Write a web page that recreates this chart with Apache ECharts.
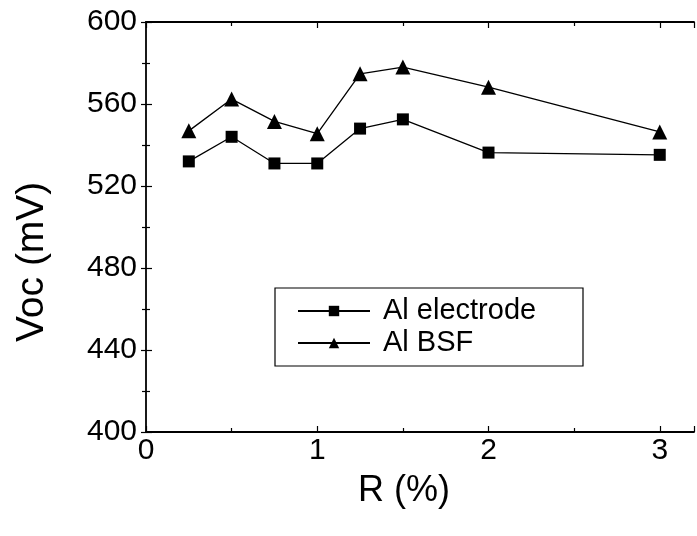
<!DOCTYPE html>
<html><head><meta charset="utf-8">
<script src="https://cdn.jsdelivr.net/npm/echarts@6/dist/echarts.min.js"></script>
<style>html,body{margin:0;padding:0;background:#fff}#c{width:697px;height:536px}</style>
</head><body><div id="c"></div>
<script>
const rValues = [0.25, 0.5, 0.75, 1.0, 1.25, 1.5, 2.0, 3.0];
const alElectrode = [532, 544, 531, 531, 548, 552.5, 536.3, 535.2];
const alBSF = [546.9, 562.4, 551.5, 545.5, 574.7, 578, 568.2, 546.4];
const xTicks = [0, 1, 2, 3];
const yTicks = [400, 440, 480, 520, 560, 600];
const seriesNames = ['Al electrode', 'Al BSF'];

const font = 'Liberation Sans, Arial, sans-serif';
const chart = echarts.init(document.getElementById('c'));
const pair = (xs, ys) => xs.map((x, i) => [x, ys[i]]);
const tickCommon = {inside: true, length: 6, lineStyle: {color: '#000', width: 1.2}};
const minorCommon = {show: true, splitNumber: 2, length: 4, lineStyle: {color: '#000', width: 1.2}};
chart.setOption({
  animation: false,
  backgroundColor: '#fff',
  grid: {left: 146, right: 3, top: 22, bottom: 104, containLabel: false},
  xAxis: [{
    type: 'value', min: 0, max: 3.2, interval: 1,
    axisLine: {lineStyle: {color: '#000', width: 1.8}},
    axisTick: tickCommon, minorTick: minorCommon, splitLine: {show: false},
    axisLabel: {color: '#000', fontFamily: font, fontSize: 30, margin: 4,
      formatter: v => xTicks.includes(v) ? String(v) : ''}
  }, {
    type: 'value', min: 0, max: 3.2, interval: 1, position: 'top',
    axisLine: {lineStyle: {color: '#000', width: 1.8}},
    axisTick: tickCommon, minorTick: minorCommon, splitLine: {show: false},
    axisLabel: {show: false}
  }],
  yAxis: [{
    type: 'value', min: 400, max: 600, interval: 40,
    axisLine: {show: true, lineStyle: {color: '#000', width: 1.8}},
    axisTick: tickCommon, minorTick: minorCommon, splitLine: {show: false},
    axisLabel: {color: '#000', fontFamily: font, fontSize: 30, margin: 9,
      formatter: v => yTicks.includes(v) ? String(v) : ''}
  }, {
    type: 'value', min: 400, max: 600, interval: 40, position: 'right',
    axisLine: {show: false},
    axisTick: {show: true, inside: true, length: 5, lineStyle: {color: '#000', width: 1.2}},
    minorTick: minorCommon, splitLine: {show: false},
    axisLabel: {show: false}
  }],
  legend: {
    orient: 'vertical', left: 275, top: 288,
    padding: [8, 20, 8, 22],
    borderColor: '#000', borderWidth: 1.2,
    itemWidth: 72, itemHeight: 13, itemGap: 2,
    textStyle: {color: '#000', fontFamily: font, fontSize: 29, lineHeight: 30, width: 180, padding: [0, 0, 0, 8]},
    data: seriesNames
  },
  graphic: [
    {type: 'text', left: 358, top: 473, style: {text: 'R (%)', fontFamily: font, fontSize: 36, fill: '#000'}},
    {type: 'text', x: 13, y: 342, rotation: Math.PI / 2, style: {text: 'Voc (mV)', fontFamily: font, fontSize: 39, fill: '#000'}}
  ],
  series: [{
    name: seriesNames[0], type: 'line', data: pair(rValues, alElectrode),
    symbol: 'rect', symbolSize: 12,
    lineStyle: {color: '#000', width: 1.3}, itemStyle: {color: '#000'}
  }, {
    name: seriesNames[1], type: 'line', data: pair(rValues, alBSF),
    symbol: 'triangle', symbolSize: 15,
    lineStyle: {color: '#000', width: 1.3}, itemStyle: {color: '#000'}
  }]
});
</script></body></html>
